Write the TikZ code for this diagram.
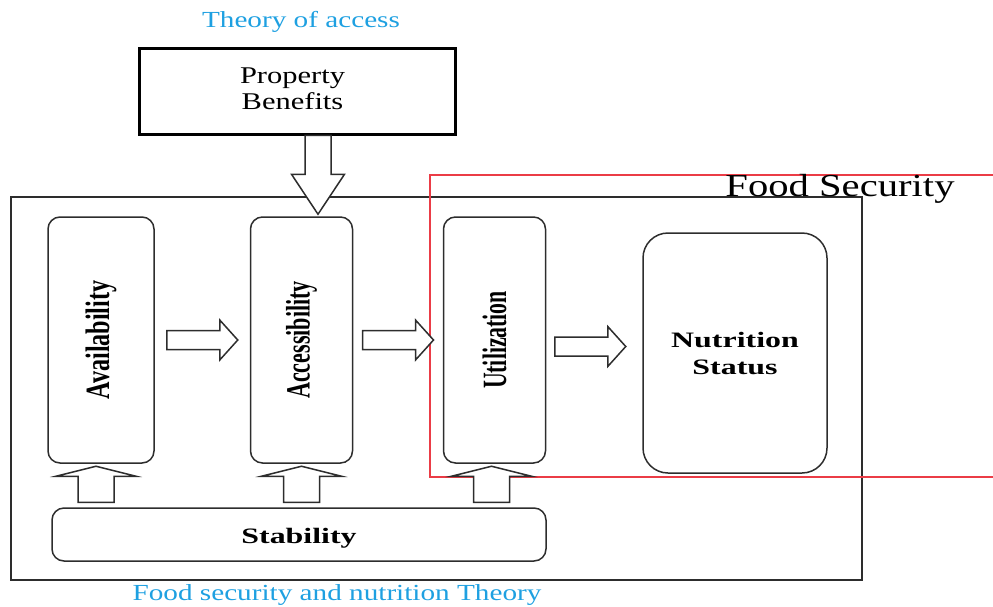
\documentclass[tikz,border=0pt]{standalone}
\usepackage{fontspec}
\setmainfont{Liberation Serif}
\usetikzlibrary{calc}
\definecolor{theoryblue}{RGB}{30,160,225}
\definecolor{linegray}{RGB}{45,45,45}
\definecolor{framered}{RGB}{235,60,70}
\newcommand{\widetext}[1]{\scalebox{1.27}[1]{#1}}

\begin{document}
\begin{tikzpicture}[x=1pt,y=-1pt,
	pillar/.style={draw=linegray, line width=1.5pt, rounded corners=12pt, minimum width=102pt, minimum height=246pt, inner sep=0pt},
	vlabel/.style={rotate=90, inner sep=0pt, font=\fontsize{34}{34}\selectfont\bfseries},
	blockarrow/.style={draw=linegray, line width=1.5pt, fill=white, line join=miter},
	theory/.style={text=theoryblue, font=\fontsize{23}{26}\selectfont},
	harrow/.pic={\draw[blockarrow] (-35.5,-9.5) -- (17.5,-9.5) -- (17.5,-20) -- (35.5,0) -- (17.5,20) -- (17.5,9.5) -- (-35.5,9.5) -- cycle;},
	uparrow/.pic={\draw[blockarrow] (-18,0) -- (-18,-26) -- (-40,-26) -- (0,-36) -- (40,-26) -- (18,-26) -- (18,0) -- cycle;},
	downarrow/.pic={\draw[blockarrow] (0,0) -- (-26.5,-40) -- (-13,-40) -- (-13,-79) -- (13,-79) -- (13,-40) -- (26.5,-40) -- cycle;}]
	\useasboundingbox (0,0) rectangle (993,606);

	% titles
	\node[theory] (access theory) at (301,22) {\widetext{Theory of access}};
	\node[theory] (fsn theory) at (337,595) {\widetext{Food security and nutrition Theory}};

	% property benefits box
	\node[draw=black, line width=3.5pt, minimum width=316pt, minimum height=86pt, align=center,
		font=\fontsize{24}{26}\selectfont] (prop) at (297.5,91.5) {\widetext{Property}\hspace*{10pt}\\\widetext{Benefits}\hspace*{10pt}\vspace{6pt}};

	% food security frame
	\draw[linegray, line width=1.8pt] (11,197) rectangle (862,580);
	\draw[framered, line width=1.1pt] (993,175) -- (430,175) -- (430,477) -- (993,477);
	\node[anchor=base, inner sep=0pt, font=\fontsize{32}{32}\selectfont] (fs) at (840,196) {\widetext{Food Security}};

	% pillars
	\node[pillar, minimum width=106pt] (avail) at (101,340) {};
	\node[pillar] (access) at (301.5,340) {};
	\node[pillar] (util) at (494.5,340) {};
	\node[vlabel] at (avail.center) {\scalebox{0.71}[1]{Availability}};
	\node[vlabel] at (access.center) {\scalebox{0.65}[1]{Accessibility}};
	\node[vlabel] at (util.center) {\scalebox{0.64}[1]{Utilization}};

	\node[draw=linegray, line width=1.5pt, rounded corners=25pt, minimum width=184pt, minimum height=240pt,
		align=center, font=\fontsize{22}{27}\selectfont\bfseries] (nutri) at (735,353) {\scalebox{1.45}[1]{Nutrition}\\\scalebox{1.45}[1]{Status}};

	\node[draw=linegray, line width=1.5pt, rounded corners=12pt, minimum width=494pt, minimum height=53pt,
		text height=17pt, text depth=0pt, font=\fontsize{22}{22}\selectfont\bfseries] (stab) at (299,534.5) {\scalebox{1.45}[1]{Stability}};

	% arrows
	\pic at ($(avail.east)!.5!(access.west)$) {harrow};
	\pic at ($(access.east)!.5!(util.west)$) {harrow};
	\pic at ($(util.east)!.5!(nutri.west)+(-4,0)$) {harrow};

	\pic at ($(avail.south |- stab.north)+(-5,-5)$) {uparrow};
	\pic at ($(access.south |- stab.north)+(0,-5)$) {uparrow};
	\pic at ($(util.south |- stab.north)+(-3,-5)$) {uparrow};

	\pic at ($(access.north)+(16.5,-2)$) {downarrow};
\end{tikzpicture}
\end{document}
